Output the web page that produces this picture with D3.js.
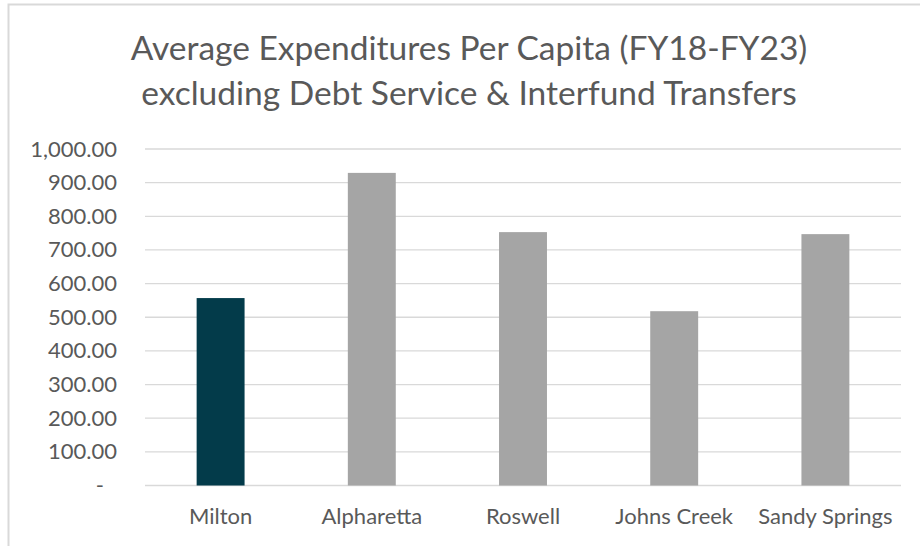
<!DOCTYPE html>
<html>
<head>
<meta charset="utf-8">
<script src="https://cdn.jsdelivr.net/npm/d3@7"></script>
<style>
  html, body { margin: 0; padding: 0; background: #fff; }
  svg { display: block; }
  text { font-family: Lato, "Open Sans", sans-serif; fill: #595959; }
</style>
</head>
<body>
<svg id="chart" width="920" height="546"></svg>
<script>
const titleLines = ["Average Expenditures Per Capita (FY18-FY23)", "excluding Debt Service & Interfund Transfers"];
const categories = ["Milton", "Alpharetta", "Roswell", "Johns Creek", "Sandy Springs"];
const values = [557, 929, 753, 518, 747];
const barColors = ["#033b4a", "#a5a5a5", "#a5a5a5", "#a5a5a5", "#a5a5a5"];
const yTicks = [0, 100, 200, 300, 400, 500, 600, 700, 800, 900, 1000];

const svg = d3.select("#chart");

// chart border (extends beyond right/bottom edge like the reference)
svg.append("rect")
  .attr("x", 8.5).attr("y", 4.5)
  .attr("width", 1000).attr("height", 1000)
  .attr("fill", "none")
  .attr("stroke", "#d9d9d9")
  .attr("stroke-width", 2);

// title
svg.append("g").selectAll("text")
  .data(titleLines)
  .join("text")
  .attr("x", 469)
  .attr("y", (d, i) => 60 + i * 45)
  .attr("text-anchor", "middle")
  .style("font-size", "33.5px")
  .text(d => d);

const x = d3.scaleBand().domain(categories).range([145, 901]).padding(0);
const y = d3.scaleLinear().domain([0, 1000]).range([485.5, 149]);

// gridlines
svg.append("g").selectAll("line")
  .data(yTicks)
  .join("line")
  .attr("x1", 145).attr("x2", 901)
  .attr("y1", d => y(d)).attr("y2", d => y(d))
  .attr("stroke", "#d9d9d9")
  .attr("stroke-width", 1.3);

// y axis labels
const yAxis = d3.axisLeft(y)
  .tickValues(yTicks)
  .tickSize(0)
  .tickPadding(0)
  .tickFormat(d => d === 0 ? "-" : d3.format(",.2f")(d));
const yg = svg.append("g").attr("transform", "translate(117,0)").call(yAxis);
yg.select(".domain").remove();
yg.selectAll("text")
  .style("font-size", "22px")
  .style("font-family", "Lato, 'Open Sans', sans-serif")
  .attr("fill", "#595959")
  .attr("x", d => d === 0 ? -13 : 0);

// bars
const barW = x.bandwidth() * 0.317;
svg.append("g").selectAll("rect")
  .data(categories)
  .join("rect")
  .attr("x", d => x(d) + x.bandwidth() / 2 - barW / 2)
  .attr("width", barW)
  .attr("y", (d, i) => y(values[i]))
  .attr("height", (d, i) => y(0) - y(values[i]))
  .attr("fill", (d, i) => barColors[i]);

// x axis labels
const xAxis = d3.axisBottom(x).tickSize(0).tickPadding(0);
const xg = svg.append("g").attr("transform", "translate(0,524)").call(xAxis);
xg.select(".domain").remove();
xg.selectAll("text")
  .attr("dy", 0)
  .style("font-size", "22px")
  .style("font-family", "Lato, 'Open Sans', sans-serif")
  .attr("fill", "#595959");
</script>
</body>
</html>
